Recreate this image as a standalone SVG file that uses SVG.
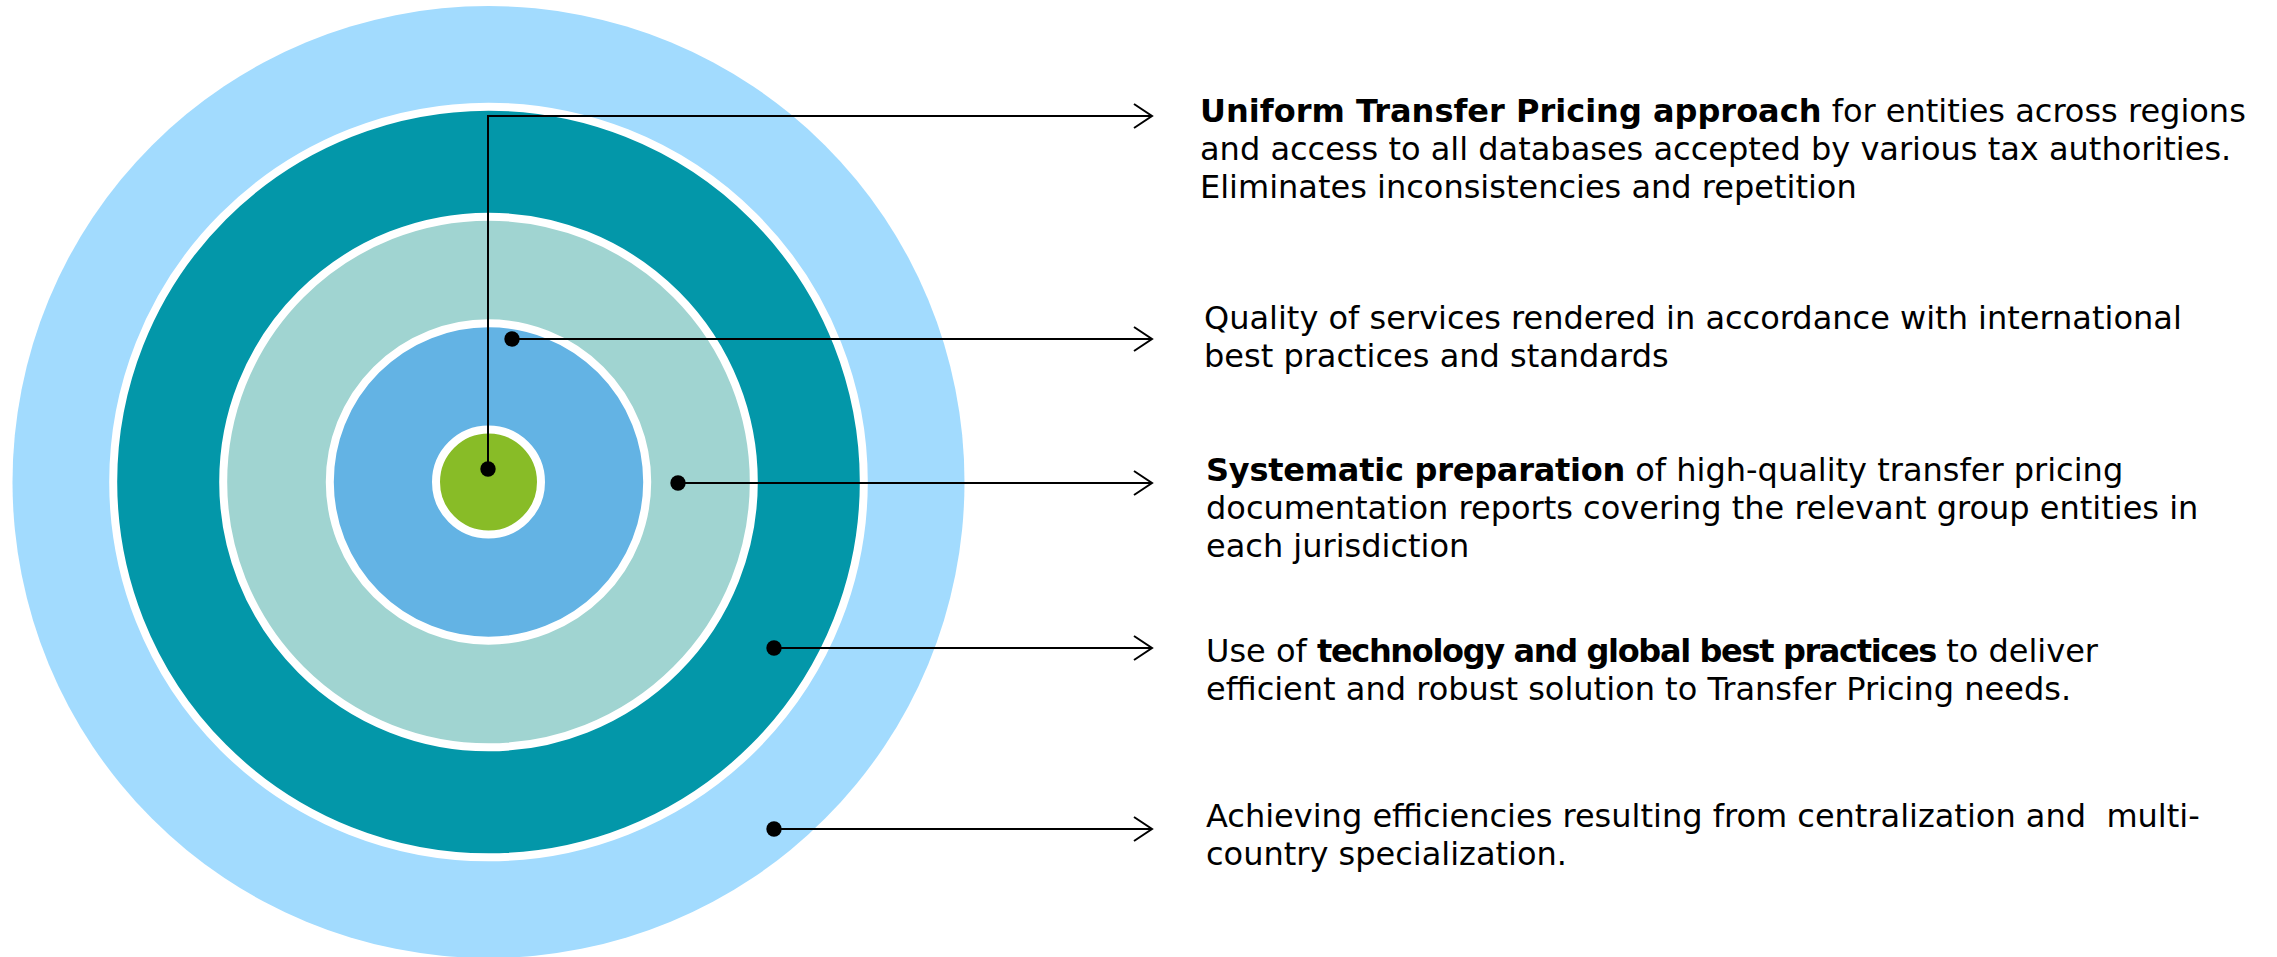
<svg xmlns="http://www.w3.org/2000/svg" width="2277" height="957" viewBox="0 0 2277 957">
<defs>
<style>
.ring{stroke:#ffffff;stroke-width:8}
.conn{fill:none;stroke:#000;stroke-width:2}
.dot{fill:#000}
.txt{font-family:"DejaVu Sans","Liberation Sans",sans-serif;font-size:32px;fill:#000}
.b{font-weight:bold}
</style>
<marker id="arr" markerUnits="userSpaceOnUse" markerWidth="24" markerHeight="30" refX="19" refY="13" orient="auto" viewBox="0 0 24 26">
<path d="M1,1 L19,13 L1,25" fill="none" stroke="#000" stroke-width="2"/>
</marker>
</defs>
<rect width="2277" height="957" fill="#ffffff"/>
<g id="rings">
<circle id="ring5" cx="488.5" cy="482" r="476" fill="#A2DBFE"/>
<circle id="ring4" cx="488.5" cy="482" r="375.3" fill="#0397A9" class="ring"/>
<circle id="ring3" cx="488.5" cy="482" r="265.3" fill="#A0D4D1" class="ring"/>
<circle id="ring2" cx="488.5" cy="482" r="158.7" fill="#63B3E4" class="ring"/>
<circle id="ring1" cx="488.5" cy="482" r="52.5" fill="#88BC27" class="ring"/>
</g>
<g id="connectors">
<polyline class="conn" points="488,469 488,116 1152,116" marker-end="url(#arr)"/>
<line class="conn" x1="512" y1="339" x2="1152" y2="339" marker-end="url(#arr)"/>
<line class="conn" x1="678" y1="483" x2="1152" y2="483" marker-end="url(#arr)"/>
<line class="conn" x1="774" y1="648" x2="1152" y2="648" marker-end="url(#arr)"/>
<line class="conn" x1="774" y1="829" x2="1152" y2="829" marker-end="url(#arr)"/>
<circle class="dot" cx="488" cy="469" r="7.7"/>
<circle class="dot" cx="512" cy="339" r="7.7"/>
<circle class="dot" cx="678" cy="483" r="7.7"/>
<circle class="dot" cx="774" cy="648" r="7.7"/>
<circle class="dot" cx="774" cy="829" r="7.7"/>
</g>
<g id="label1">
<text class="txt" x="1200" y="122"><tspan class="b">Uniform Transfer Pricing approach</tspan> for entities across regions</text>
<text class="txt" x="1200" y="160">and access to all databases accepted by various tax authorities.</text>
<text class="txt" x="1200" y="198">Eliminates inconsistencies and repetition</text>
</g>
<g id="label2">
<text class="txt" x="1204" y="329">Quality of services rendered in accordance with international</text>
<text class="txt" x="1204" y="367">best practices and standards</text>
</g>
<g id="label3">
<text class="txt" x="1206" y="481"><tspan class="b" letter-spacing="-0.25">Systematic preparation</tspan> of high-quality transfer pricing</text>
<text class="txt" x="1206" y="519">documentation reports covering the relevant group entities in</text>
<text class="txt" x="1206" y="557">each jurisdiction</text>
</g>
<g id="label4">
<text class="txt" x="1206" y="662">Use of <tspan class="b" letter-spacing="-1.35">technology and global best practices</tspan> to deliver</text>
<text class="txt" x="1206" y="700">efficient and robust solution to Transfer Pricing needs.</text>
</g>
<g id="label5">
<text class="txt" x="1206" y="827" xml:space="preserve">Achieving efficiencies resulting from centralization and  multi-</text>
<text class="txt" x="1206" y="865">country specialization.</text>
</g>
</svg>
